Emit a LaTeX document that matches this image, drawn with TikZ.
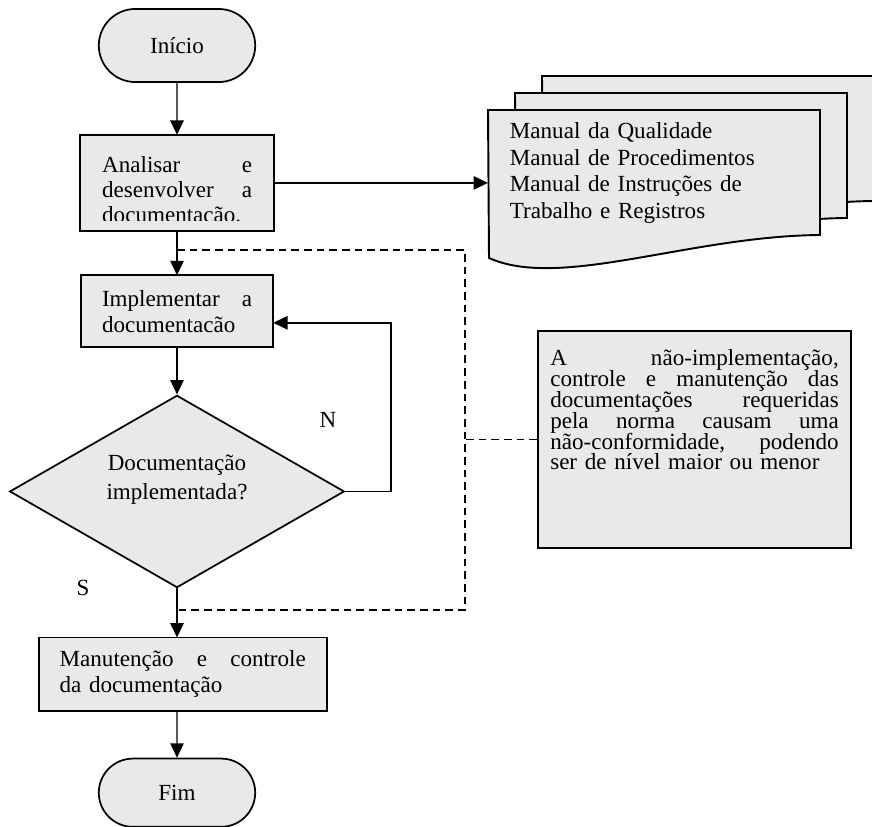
\documentclass[tikz,border=0pt]{standalone}
\usepackage{fontspec}
\setmainfont{Liberation Serif}
\usepackage{xcolor}
\definecolor{lineDark}{HTML}{000000}
\definecolor{boxFill}{HTML}{E9E9E9}
\usepackage{tikz}
\usetikzlibrary{shapes,arrows,positioning,calc,arrows.meta,shapes.misc}
\tikzset{%
  terminalBox/.style={%
    rounded rectangle,
    draw=lineDark,
    fill=boxFill,
    line width=0.9pt,
    minimum width=88pt,
    minimum height=38pt
  },
  processBox/.style={%
    rectangle,
    draw=lineDark,
    fill=boxFill,
    line width=1pt,
    inner xsep=11pt,
    outer sep=0pt,
    align=left
  },
  decisionBox/.style={%
    diamond,
    draw=lineDark,
    fill=boxFill,
    line width=0.9pt,
    shape aspect=1.75,
    minimum width=174pt,
    minimum height=100pt,
    inner sep=0pt,
    text width=90pt,
    text height=9pt,
    text depth=30.8pt,
    align=center,
    font={\fontsize{12}{15}\selectfont}
  },
  noteBox/.style={%
    rectangle,
    draw=lineDark,
    fill=boxFill,
    line width=1pt,
    text width=150pt,
    inner xsep=6.4pt,
    inner ysep=0pt,
    text height=18.2pt,
    text depth=94.6pt,
    align=left,
    font={\fontsize{12}{10.8}\selectfont\lineskiplimit=-\maxdimen}
  },
  docText/.style={%
    text width=150pt,
    inner xsep=11.4pt,
    inner ysep=0pt,
    outer sep=0pt,
    align=left,
    font={\fontsize{12}{13.9}\selectfont}
  },
  docPage/.style={%
    draw=lineDark,
    fill=boxFill,
    line width=1pt
  },
  arrowLine/.style={%
    -{Triangle[length=7.5pt,width=7pt]},
    line width=0.75pt,
    color=lineDark
  },
  dashLine/.style={%
    dash pattern=on 4pt off 2.6pt,
    line width=0.6pt,
    color=lineDark
  }
}

\begin{document}
\begin{tikzpicture}[
                x=0.52pt, y=-0.52pt,
                node distance=24pt,
                every node/.style={font=\fontsize{12}{13.6}\selectfont}
            ]
            \useasboundingbox (0,0) rectangle (872,826);

            \node[terminalBox] (inicio) at (177,45.5) {Início};
            \node[processBox, minimum width=101pt, minimum height=50pt, below=27pt of inicio] (analisar) {};
            \begin{scope}
              \clip (analisar.north west) rectangle ([yshift=5.4pt]analisar.south east);
              \node[text width=78pt, inner sep=0pt, align=left, anchor=base west,
                    font={\fontsize{12}{13}\selectfont}]
                at ([xshift=11.4pt, yshift=-19.5pt]analisar.north west)
                {Analisar\hfill e\\desenvolver\hfill a\\documentação.};
            \end{scope}
            \node[processBox, text width=78pt, minimum height=37.5pt, below=23pt of analisar] (implementar) {Implementar\hfill a\\documentacão};
            \node[decisionBox, below=24.5pt of implementar] (decisao) {Documentação\\implementada?};
            \node[processBox, text width=128pt, minimum height=38pt, below=25.5pt of decisao, xshift=3pt] (manut) {Manutenção\hfill e\hfill controle\\da documentação};
            \node[terminalBox, minimum height=35.5pt, below=24.5pt of manut, xshift=-3pt] (fim) {Fim};

            \foreach \dx/\dy in {54/-34, 27/-17, 0/0}
              \draw[docPage, shift={(\dx,\dy)}] (488,110) -- (820,110) -- (820,235)
                .. controls (690,236) and (560,290) .. (489,258) -- cycle;
            \node[docText, anchor=base west] (manuais) at (488,138.3)
              {Manual da Qualidade\\Manual de Procedimentos\\Manual de Instruções de\\Trabalho e Registros};

            \node[noteBox, anchor=north west] (nota) at (537,330)
              {A\hfill não-implementação,\\controle\hfill e\hfill manutenção\hfill das\\documentações\hfill requeridas\\pela\hfill norma\hfill causam\hfill uma\\não-conformidade,\hfill podendo\\ser de nível maior ou menor};

            \node (rotuloN) at (328,420) {N};
            \node (rotuloS) at (83,588) {S};

            \coordinate (busTop) at (465,250);
            \coordinate (busBot) at (465,610);
            \draw[dashLine] (analisar.south |- busTop) -- (busTop) -- (busBot) -- (decisao.south |- busBot);
            \draw[dashLine] (nota.west) -- (nota.west -| busTop);

            \draw[arrowLine] (inicio) -- (analisar);
            \draw[arrowLine] (analisar) -- (implementar);
            \draw[arrowLine] (implementar) -- (decisao);
            \draw[arrowLine] (decisao) -- (decisao |- manut.north);
            \draw[arrowLine] (manut.south -| fim.north) -- (fim);
            \draw[arrowLine] (analisar.east) -- (analisar.east -| manuais.west);
            \draw[arrowLine] (decisao.east) -- ++(46,0) |- ([yshift=-6pt]implementar.east);
        \end{tikzpicture}
\end{document}
